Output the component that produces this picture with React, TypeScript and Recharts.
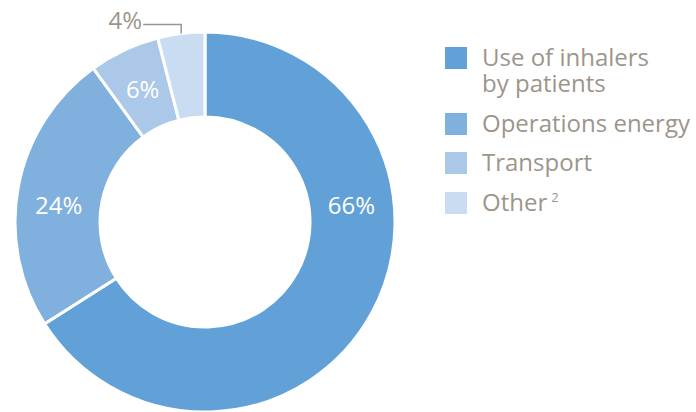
import { PieChart, Pie, Cell, Legend } from "recharts";

// Data
const categories = ["Use of inhalers by patients", "Operations energy", "Transport", "Other"];
const shares = [66, 24, 6, 4];
const shareLabels = ["66%", "24%", "6%", "4%"];

// Legend text lines (the first entry wraps, the last has a footnote mark)
const legendLines = [["Use of inhalers", "by patients"], ["Operations energy"], ["Transport"], ["Other"]];
const legendNotes = ["", "", "", "2"];

// Colors
const COLORS = ["#62a1d7", "#7fb0de", "#abc8e8", "#c9dcf1"];
const TEXT = "#9d958a";
const FONT = "'Open Sans', sans-serif";

// angle (deg, counter-clockwise from 3 o'clock) used to place the inside labels
const LABEL_ANGLE = [6.8, 173, 115, null];
// height of each legend row
const ROW_H = [66, 39, 40, 30];

const data = categories.map((name, i) => ({ name, value: shares[i] }));

const RAD = Math.PI / 180;

const renderLabel = (props: any) => {
    const { cx, cy, innerRadius, outerRadius, midAngle, index } = props;
    const angle = LABEL_ANGLE[index];
    if (angle === null) {
        // outside label with an elbow leader line
        const x0 = cx + outerRadius * Math.cos(-midAngle * RAD);
        const y0 = cy + outerRadius * Math.sin(-midAngle * RAD);
        const yTop = y0 - 9;
        const xEnd = x0 - 38;
        return (
            <g>
                <polyline
                    points={`${x0},${y0} ${x0},${yTop} ${xEnd},${yTop}`}
                    fill="none"
                    stroke={TEXT}
                    strokeWidth={1.5}
                />
                <text
                    x={xEnd - 1}
                    y={yTop + 5}
                    textAnchor="end"
                    fill={TEXT}
                    fontSize={24}
                    fontFamily={FONT}
                >
                    {shareLabels[index]}
                </text>
            </g>
        );
    }
    const r = (innerRadius + outerRadius) / 2;
    const x = cx + r * Math.cos(-angle * RAD);
    const y = cy + r * Math.sin(-angle * RAD);
    return (
        <text
            x={x}
            y={y}
            textAnchor="middle"
            dominantBaseline="central"
            fill="#fff"
            fontSize={24}
            fontFamily={FONT}
        >
            {shareLabels[index]}
        </text>
    );
};

const renderLegend = () => {
    return (
        <div style={{ fontFamily: FONT, color: TEXT, fontSize: 24 }}>
            {legendLines.map((lines, i) => (
                <div
                    key={i}
                    style={{ display: "flex", alignItems: "flex-start", height: ROW_H[i] }}
                >
                    <div
                        style={{
                            width: 22,
                            height: 22,
                            background: COLORS[i],
                            marginTop: 3,
                            marginRight: 15,
                            flexShrink: 0,
                        }}
                    />
                    <div style={{ lineHeight: "26px", whiteSpace: "nowrap" }}>
                        {lines.map((line, j) => (
                            <div key={j}>
                                {line}
                                {legendNotes[i] && j === lines.length - 1 ? (
                                    <sup style={{ fontSize: 13, marginLeft: 4, verticalAlign: 9, lineHeight: 0 }}>
                                        {legendNotes[i]}
                                    </sup>
                                ) : null}
                            </div>
                        ))}
                    </div>
                </div>
            ))}
        </div>
    );
};

export default function App() {
    return (
        <div style={{ position: "absolute", left: 0, top: 0, background: "#fff" }}>
            <PieChart width={696} height={412} margin={{ top: 0, right: 0, bottom: 0, left: 0 }}>
                <Pie
                    data={data}
                    dataKey="value"
                    nameKey="name"
                    cx={205}
                    cy={222}
                    innerRadius={105}
                    outerRadius={190}
                    startAngle={90}
                    endAngle={-270}
                    stroke="#fff"
                    strokeWidth={3}
                    label={renderLabel}
                    labelLine={false}
                    isAnimationActive={false}
                >
                    {data.map((_, i) => (
                        <Cell key={i} fill={COLORS[i]} />
                    ))}
                </Pie>
                <Legend
                    content={renderLegend}
                    layout="vertical"
                    wrapperStyle={{ position: "absolute", left: 445, top: 44, width: 251 }}
                />
            </PieChart>
        </div>
    );
}
